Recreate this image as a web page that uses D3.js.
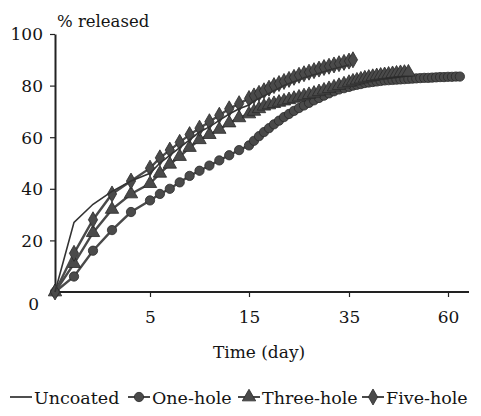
<html lang="en">
<head>
    <meta charset="UTF-8">
    <title>Release</title>
    <script type="text/javascript" src="https://unpkg.com/d3@7/dist/d3.min.js"></script>
    <style>
        body{
            margin:0;
            padding:0;
            background:#fff;
        }
        text {
            font-family: "DejaVu Serif", "Liberation Serif", serif;
            fill: #141414;
        }
    </style>
</head>
<body>
<svg width=481 height=416></svg>

<script>

// sampling days (daily)
var days = d3.range(0, 64)

var uncoated = [0, 27, 34, 39, 43, 46, 50, 53, 56, 59, 62, 64, 66.5, 69, 71, 72.5, 74, 75, 76, 77,
    78, 79, 80, 80.8, 81.5, 82.2, 83, 83.6, 84.2, 84.8, 85.4, 86, 86.5, 87, 87.5, 88]

var oneHole = [0, 6, 16, 24, 31, 35.5, 38, 40, 42.5, 45, 47, 49, 51, 53, 55, 56.8, 58.6, 60.4, 62, 63.5,
    65, 66.4, 67.8, 69, 70.2, 71.3, 72.3, 73.3, 74.3, 75.2, 76.1, 77, 77.8, 78.5, 79, 79.5, 80, 80.3,
    80.6, 81, 81.2, 81.4, 81.6, 81.8, 82, 82.1, 82.2, 82.3, 82.4, 82.5, 82.6, 82.7, 82.8, 82.9, 83,
    83, 83.1, 83.2, 83.3, 83.3, 83.4, 83.4, 83.5, 83.5]

var threeHole = [0, 11, 23, 32, 38, 42, 46, 49.5, 52.5, 56, 59, 61, 63, 65.5, 67.5, 69, 70, 71,
    72, 72.5, 73, 73.5, 74, 74.5, 75, 75.5, 76, 76.5, 77, 77.6, 78.2, 78.8, 79.4, 80, 80.6, 81.2,
    81.7, 82.1, 82.5, 82.9, 83.2, 83.5, 83.8, 84, 84.2, 84.4, 84.6, 84.8, 85, 85.1, 85.2]

var fiveHole = [0, 15, 28, 38, 43, 48, 52, 55, 58, 61, 63.5, 66, 68.5, 71, 73, 75, 76, 77, 78, 79,
    80, 80.8, 81.6, 82.4, 83.2, 84, 84.6, 85.2, 85.8, 86.4, 87, 87.5, 88, 88.5, 89, 89.5, 90]

var xTicks = [5, 15, 35, 60]
var yTicks = [0, 20, 40, 60, 80, 100]
var names = ['Uncoated', 'One-hole', 'Three-hole', 'Five-hole']

var ink = '#4a4a4a', edge = '#2a2a2a'

var svg = d3.select('svg')

// x axis is stretched at the start (piecewise)
var x = d3.scaleLinear().domain([0, 5, 15, 35, 60]).range([55, 150, 249, 349, 448])
var y = d3.scaleLinear().domain([0, 100]).range([292, 34])

// axes
var xAxis = svg.append('g')
    .attr('transform', 'translate(0,292)')
    .call(d3.axisBottom(x).tickValues(xTicks).tickSize(5).tickSizeOuter(0))
xAxis.select('.domain').attr('d', 'M55,0H469').attr('stroke', '#222').attr('stroke-width', 2)
xAxis.selectAll('line').attr('stroke', '#222').attr('stroke-width', 1.2)
xAxis.selectAll('text').attr('dy', 0).attr('y', 31).style('font-size', '17px')

var yAxis = svg.append('g')
    .attr('transform', 'translate(55,0)')
    .call(d3.axisLeft(y).tickValues(yTicks).tickSize(5).tickSizeOuter(0))
yAxis.select('.domain').attr('stroke', '#222').attr('stroke-width', 2)
yAxis.selectAll('line').attr('stroke', '#222').attr('stroke-width', 1.2)
yAxis.selectAll('text').attr('x', -12).attr('dy', '0.35em').style('font-size', '17px')
yAxis.selectAll('.tick').filter(d => d == 0).select('text').attr('x', -16).attr('dy', '1.05em')
yAxis.selectAll('.tick').filter(d => d == 0).select('line').remove()

svg.append('text').attr('x', 57).attr('y', 27).style('font-size', '16.5px').text('% released')
svg.append('text').attr('x', 259).attr('y', 358).attr('text-anchor', 'middle')
    .style('font-size', '17px').text('Time (day)')

var line = d3.line().x((d, i) => x(days[i])).y(d => y(d))

// marker shapes
var circ = d3.symbol().type(d3.symbolCircle).size(68)
var tri = d3.symbol().type(d3.symbolTriangle).size(78)
var dia = d3.symbol().type(d3.symbolDiamond).size(74)

var series = [
    {v: oneHole, sym: circ},
    {v: threeHole, sym: tri},
    {v: fiveHole, sym: dia}
]

series.forEach(s => {
    svg.append('path').attr('d', line(s.v)).attr('fill', 'none')
        .attr('stroke', ink).attr('stroke-width', 2.4)
    svg.append('g').selectAll('path')
        .data(s.v)
        .enter()
        .append('path')
        .attr('transform', (d, i) => 'translate(' + x(days[i]) + ',' + y(d) + ')')
        .attr('d', s.sym())
        .attr('fill', ink)
        .attr('stroke', edge)
        .attr('stroke-width', 0.8)
})

svg.append('path').attr('d', line(uncoated)).attr('fill', 'none')
    .attr('stroke', '#333').attr('stroke-width', 1.6)

// legend
var lg = svg.append('g').attr('transform', 'translate(0,397)')
var lgX = [10, 128, 238, 362]
var syms = [null, circ, tri, dia]
names.forEach((n, i) => {
    lg.append('line').attr('x1', lgX[i]).attr('x2', lgX[i] + 22)
        .attr('stroke', i == 0 ? '#222' : ink).attr('stroke-width', i == 0 ? 1.6 : 2)
    if (syms[i]) {
        lg.append('path').attr('transform', 'translate(' + (lgX[i] + 11) + ',0)')
            .attr('d', syms[i]()).attr('fill', ink).attr('stroke', edge).attr('stroke-width', 0.8)
    }
    lg.append('text').attr('x', lgX[i] + 24).attr('y', 7).style('font-size', '17.5px').text(n)
})

</script>
</body>
</html>
